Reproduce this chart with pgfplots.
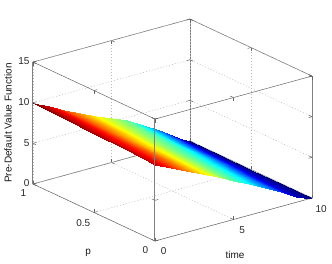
\documentclass[border=0pt]{standalone}
\usepackage{fontspec}
\setmainfont{Liberation Sans}
\usepackage{pgfplots}
\pgfplotsset{compat=1.18}
\begin{document}
\begin{tikzpicture}[x=1pt,y=1pt]
\path[use as bounding box] (0,0) rectangle (332,263);
\begin{axis}[
  at={(155pt,22pt)},anchor=origin,
  x={(15.7pt,4.3pt)},y={(-122pt,57pt)},z={(0pt,8.13pt)},
  xmin=0,xmax=10,ymin=0,ymax=1,zmin=0,zmax=15,
  xtick={0,5,10},ytick={0,0.5,1},ztick={0,5,10,15},
  yticklabels={0,0.5,1},
  3d box=complete,
  grid=major,
  grid style={black!28,line width=0.5pt,dash pattern=on 1pt off 2pt},
  x axis line style={black!60,line width=0.5pt},
  y axis line style={black!60,line width=0.5pt},
  z axis line style={black!50,line width=1pt},
  tick style={black!60,line width=0.5pt},
  major tick length=3.5pt,
  tick label style={font=\fontsize{10}{12}\selectfont,color=black!85,/pgf/number format/assume math mode=true},
  xticklabel style={xshift=4pt,yshift=-3pt},
  yticklabel style={xshift=-4pt,yshift=-2pt},
  label style={font=\fontsize{10}{12}\selectfont,color=black!90},
  clip=false,
  colormap/jet,
  point meta min=0,point meta max=10,
  xlabel={time},ylabel={p},zlabel={Pre-Default Value Function},
  xlabel style={at={(axis cs:2.01,-0.397,0)},anchor=center,rotate=0},
  ylabel style={at={(axis cs:-3.72,0.07,0)},anchor=center,rotate=0},
  zlabel style={at={(axis cs:0,1.205,6.06)},anchor=center},
]
\addplot3[surf,shader=interp,mesh/check=false] table[x=t,y=p,z=v]{
t p v
0 0 9.35
0 0.25 9.51
0 0.5 9.68
0 0.75 9.84
0 1 10

1 0 8.5
1 0.25 8.65
1 0.5 8.8
1 0.75 8.95
1 1 9.1

2 0 7.6
2 0.25 7.73
2 0.5 7.85
2 0.75 7.98
2 1 8.1

3 0 6.6
3 0.25 6.75
3 0.5 6.9
3 0.75 7.05
3 1 7.2

4 0 5.7
4 0.25 5.85
4 0.5 6.0
4 0.75 6.15
4 1 6.3

5 0 4.7
5 0.25 4.9
5 0.5 5.1
5 0.75 5.3
5 1 5.5

6 0 3.8
6 0.25 4.03
6 0.5 4.25
6 0.75 4.48
6 1 4.7

7 0 2.8
7 0.25 3.0
7 0.5 3.2
7 0.75 3.4
7 1 3.6

8 0 1.8
8 0.25 1.95
8 0.5 2.1
8 0.75 2.25
8 1 2.4

9 0 0.7
9 0.25 0.8
9 0.5 0.9
9 0.75 1.0
9 1 1.1

9.5 0 0.3
9.5 0.25 0.35
9.5 0.5 0.4
9.5 0.75 0.45
9.5 1 0.5

10 0 0
10 0.25 0
10 0.5 0
10 0.75 0
10 1 0
};
\end{axis}
\end{tikzpicture}
\end{document}
